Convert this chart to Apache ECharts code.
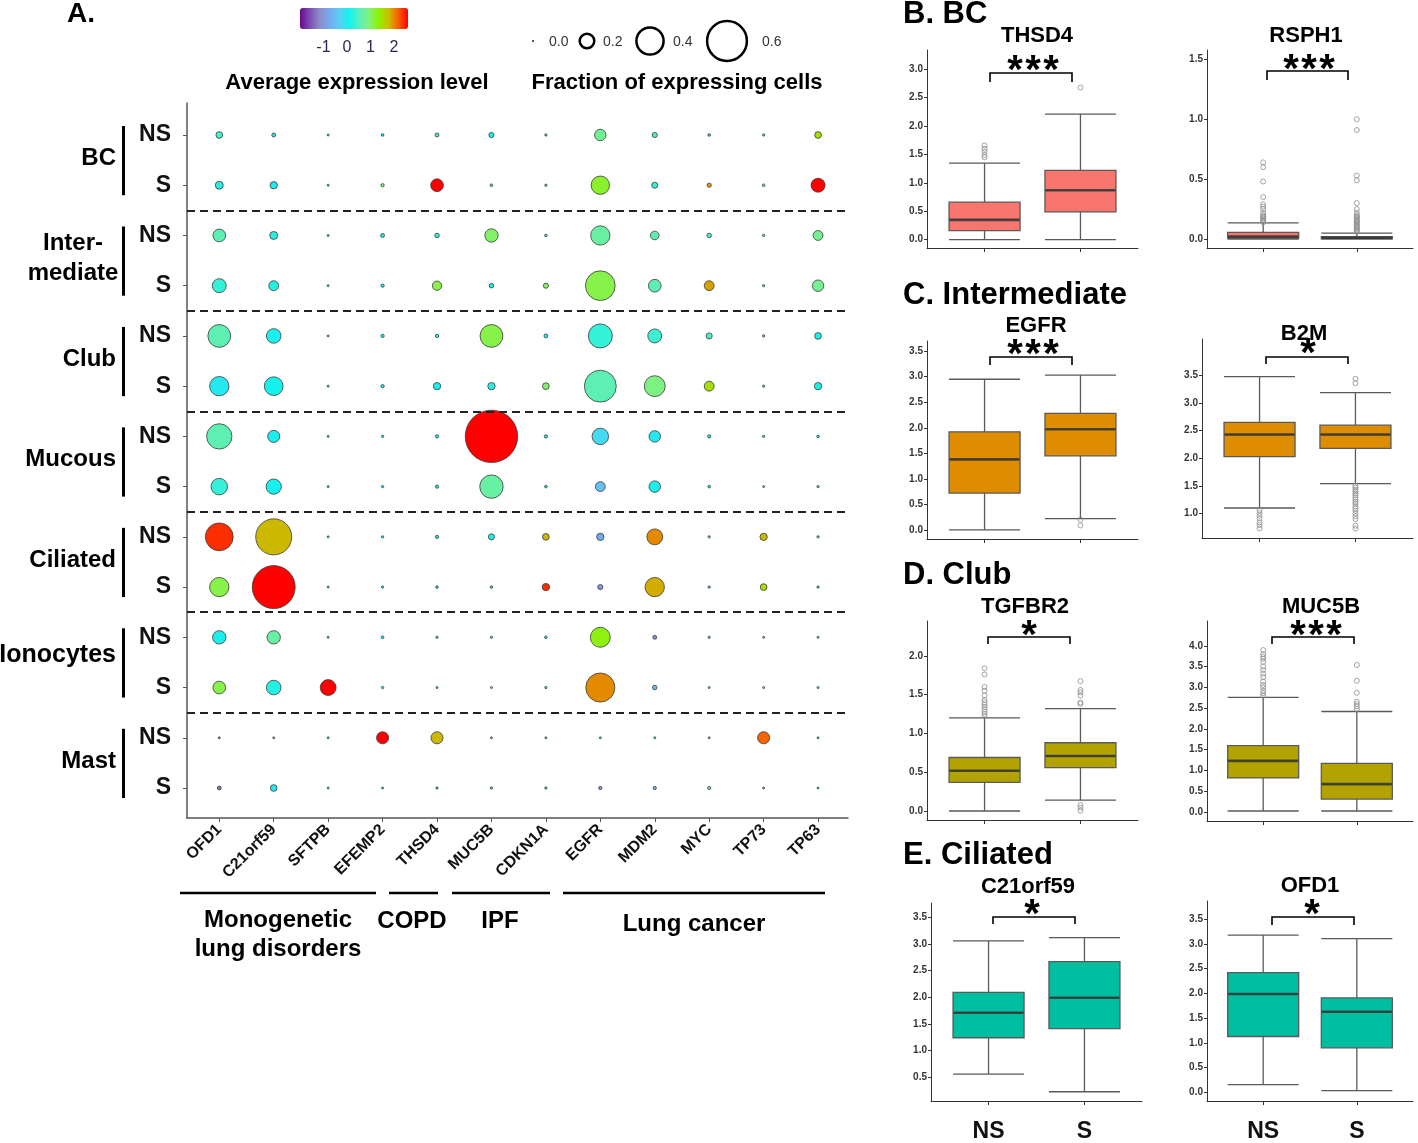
<!DOCTYPE html>
<html><head><meta charset="utf-8">
<script src="https://cdn.jsdelivr.net/npm/echarts@6/dist/echarts.min.js"></script>
<style>html,body{margin:0;padding:0;background:#fff}#c{width:1418px;height:1143px}</style>
</head><body><div id="c"></div>
<script>
// ---------------- data ----------------
const genes = ['OFD1','C21orf59','SFTPB','EFEMP2','THSD4','MUC5B','CDKN1A','EGFR','MDM2','MYC','TP73','TP63'];
const cellTypes = ['BC','Inter-\nmediate','Club','Mucous','Ciliated','Ionocytes','Mast'];
const smokingStatus = ['NS','S'];
const diseaseGroups = ['Monogenetic\nlung disorders','COPD','IPF','Lung cancer'];
const colorTicks = [-1,0,1,2];
const sizeLegendValues = [0.0,0.2,0.4,0.6];
// rows: BC NS, BC S, Intermediate NS, Intermediate S, Club NS, Club S, Mucous NS, Mucous S,
//       Ciliated NS, Ciliated S, Ionocytes NS, Ionocytes S, Mast NS, Mast S
const avgExpression = [
 [0.4, 0.0, 0, 0.1, 0.4, 0.1, 0, 0.8, 0.4, 0.1, 0, 1.5],
 [0.2, 0.05, 0, 0.8, 2.6, 0.05, 0, 1.2, 0.3, 1.9, 0.7, 2.6],
 [0.6, 0.2, 0, 0.1, 0.3, 1.0, 0, 0.7, 0.6, 0.4, 0, 0.8],
 [0.3, 0.2, 0, 0.2, 1.1, 0.1, 1.0, 1.1, 0.6, 1.9, 0, 0.8],
 [0.6, 0.05, 0, 0.1, 0.1, 1.1, 0.1, 0.3, 0.35, 0.4, 0, 0.1],
 [0.0, 0.1, 0, 0.1, 0.1, 0.2, 1.0, 0.6, 0.9, 1.5, 0, 0.15],
 [0.6, 0.05, 0, 0.0, 0.1, 2.6, 0.1, -0.2, 0.0, 0.1, 0, 0.1],
 [0.3, 0.1, 0, 0.0, 0.1, 0.7, 0.1, -0.5, 0.05, 0.1, 0, 0],
 [2.4, 1.8, 0, 0.0, 0.1, 0.05, 1.8, -0.7, 2.0, 0, 1.8, 0],
 [1.1, 2.6, 0, 0.0, 0.1, 0.1, 2.4, -0.9, 1.85, 0, 1.5, 0],
 [0.05, 0.7, 0, 0.1, 0, 0, 0.1, 1.3, -1.0, 0, 0, 0],
 [1.1, 0.2, 2.6, 0, 0, 0, 0, 2.0, -0.5, 0, 0, 0],
 [-1.3, 0, 0, 2.6, 1.8, 0, 0, 0, 0, 0, 2.15, 0],
 [-1.3, 0, 0, 0, 0, 0, 0, -1.0, -0.5, 0.8, 0, 0]
];
const fractionExpressing = [
 [0.075,0.03,0,0.01,0.03,0.05,0.005,0.15,0.05,0.01,0.005,0.075],
 [0.095,0.085,0,0.02,0.17,0.01,0.005,0.26,0.065,0.035,0.01,0.19],
 [0.17,0.095,0,0.03,0.04,0.18,0.01,0.275,0.105,0.04,0.005,0.125],
 [0.19,0.125,0,0.02,0.115,0.04,0.05,0.44,0.17,0.125,0.005,0.15],
 [0.33,0.2,0,0.02,0.02,0.33,0.03,0.35,0.19,0.065,0.005,0.075],
 [0.275,0.265,0,0.02,0.085,0.085,0.075,0.475,0.3,0.125,0.004,0.085],
 [0.37,0.16,0,0.005,0.02,0.80,0.02,0.23,0.15,0.02,0.005,0.01],
 [0.23,0.21,0,0.005,0.02,0.34,0.01,0.125,0.15,0.01,0,0.005],
 [0.41,0.54,0,0.005,0.02,0.065,0.075,0.085,0.22,0.005,0.085,0.005],
 [0.275,0.65,0,0.005,0.01,0.01,0.085,0.05,0.275,0.005,0.075,0.005],
 [0.18,0.18,0,0.01,0.005,0.005,0.01,0.285,0.03,0.005,0,0],
 [0.17,0.2,0.22,0.005,0,0,0.005,0.43,0.04,0,0,0],
 [0,0,0,0.16,0.16,0,0,0,0,0,0.16,0],
 [0.03,0.075,0,0,0.005,0.005,0.005,0.02,0.02,0.02,0,0]
];

// box plots: [min, Q1, median, Q3, max] for NS and S ; outliers [groupIndex, value]
const boxGroups = ['NS','S'];
const thsd4Stats = [[0,0.16,0.35,0.66,1.35],[0,0.49,0.87,1.22,2.21]];
const thsd4Outliers = [[0,1.45],[0,1.49],[0,1.55],[0,1.60],[0,1.66],[1,2.68]];
const rsph1Stats = [[0,0.005,0.02,0.055,0.135],[0,0.002,0.01,0.02,0.05]];
const rsph1Outliers = [[0,0.14],[0,0.15],[0,0.16],[0,0.17],[0,0.18],[0,0.19],[0,0.2],[0,0.22],[0,0.25],[0,0.27],[0,0.29],[0,0.35],[0,0.48],[0,0.6],[0,0.64],
 [1,0.06],[1,0.07],[1,0.08],[1,0.09],[1,0.1],[1,0.11],[1,0.12],[1,0.13],[1,0.14],[1,0.15],[1,0.16],[1,0.17],[1,0.18],[1,0.19],[1,0.2],[1,0.22],[1,0.25],[1,0.3],[1,0.49],[1,0.53],[1,0.91],[1,1.0]];
const egfrStats = [[0,0.72,1.38,1.92,2.95],[0.22,1.45,1.97,2.28,3.03]];
const egfrOutliers = [[1,0.2],[1,0.085]];
const b2mStats = [[1.10,2.03,2.43,2.65,3.48],[1.54,2.18,2.43,2.60,3.19]];
const b2mOutliers = [[0,1.06],[0,1.01],[0,0.96],[0,0.91],[0,0.84],[0,0.79],[0,0.73],[1,3.44],[1,3.36],[1,1.50],[1,1.47],[1,1.43],[1,1.40],[1,1.36],[1,1.33],[1,1.29],[1,1.25],[1,1.21],[1,1.18],[1,1.13],[1,1.09],[1,1.05],[1,1.0],[1,0.95],[1,0.9],[1,0.78],[1,0.73]];
const tgfbr2Stats = [[0,0.37,0.52,0.69,1.2],[0.14,0.56,0.71,0.88,1.32]];
const tgfbr2Outliers = [[0,1.22],[0,1.25],[0,1.28],[0,1.31],[0,1.34],[0,1.37],[0,1.40],[0,1.43],[0,1.49],[0,1.55],[0,1.60],[0,1.76],[0,1.84],[1,0.077],[1,0.043],[1,0.004],[1,1.38],[1,1.40],[1,1.49],[1,1.53],[1,1.56],[1,1.675]];
const muc5bStats = [[0.024,0.82,1.23,1.60,2.76],[0.024,0.31,0.67,1.17,2.42]];
const muc5bOutliers = [[0,2.80],[0,2.86],[0,2.92],[0,3.00],[0,3.06],[0,3.14],[0,3.25],[0,3.33],[0,3.42],[0,3.50],[0,3.62],[0,3.69],[0,3.74],[0,3.80],[0,3.90],[1,2.48],[1,2.54],[1,2.60],[1,2.66],[1,2.87],[1,3.16],[1,3.54]];
const c21orf59Stats = [[0.556,1.24,1.71,2.09,3.06],[0.226,1.41,1.99,2.67,3.12]];
const c21orf59Outliers = [];
const ofd1Stats = [[0.155,1.13,1.99,2.42,3.18],[0.034,0.90,1.63,1.91,3.11]];
const ofd1Outliers = [];
const ticks0to3 = [0,0.5,1,1.5,2,2.5,3];
const ticks0to15 = [0,0.5,1,1.5];
const ticks0to35 = [0,0.5,1,1.5,2,2.5,3,3.5];
const ticks1to35 = [1,1.5,2,2.5,3,3.5];
const ticks0to2 = [0,0.5,1,1.5,2];
const ticks0to4 = [0,0.5,1,1.5,2,2.5,3,3.5,4];
const ticks05to35 = [0.5,1,1.5,2,2.5,3,3.5];

// ---------------- layout / style ----------------
const FONT = '"Liberation Sans", Arial, Helvetica, sans-serif';
const sizeOf = f => 2 + 63 * f;
const palette = ['#6a0a8a','#7d4fb5','#8c8cc8','#74a9ee','#5ccff2','#14f2ee','#55f0c2','#80f27e','#8ef200','#c9c000','#f86000','#ff0000'];

const boxPanels = [
 {title:'THSD4', stats:thsd4Stats, out:thsd4Outliers, color:'#F8766D', grid:{left:927,top:50,width:211,height:198}, ymin:-0.146, ymax:3.34, ticks:ticks0to3, sig:3, br:[990,1072,73,82], tx:1037, ty:36, sx:1033, sy:63, showX:false},
 {title:'RSPH1', stats:rsph1Stats, out:rsph1Outliers, color:'#F8766D', grid:{left:1207,top:50,width:206,height:198}, ymin:-0.075, ymax:1.578, ticks:ticks0to15, sig:3, br:[1267,1348,71,80], tx:1306, ty:36, sx:1309, sy:62, showX:false},
 {title:'EGFR', stats:egfrStats, out:egfrOutliers, color:'#DE8C00', grid:{left:927,top:341,width:211,height:198}, ymin:-0.18, ymax:3.70, ticks:ticks0to35, sig:3, br:[990,1072,357,365], tx:1036, ty:326, sx:1033, sy:347, showX:false},
 {title:'B2M', stats:b2mStats, out:b2mOutliers, color:'#DE8C00', grid:{left:1202,top:339,width:211,height:199}, ymin:0.557, ymax:4.16, ticks:ticks1to35, sig:1, br:[1266,1348,357,364], tx:1304, ty:334, sx:1308, sy:346, showX:false},
 {title:'TGFBR2', stats:tgfbr2Stats, out:tgfbr2Outliers, color:'#B3A300', grid:{left:927,top:621,width:211,height:199}, ymin:-0.116, ymax:2.45, ticks:ticks0to2, sig:1, br:[988,1070,637,644], tx:1025, ty:607, sx:1029, sy:628, showX:false},
 {title:'MUC5B', stats:muc5bStats, out:muc5bOutliers, color:'#B3A300', grid:{left:1207,top:621,width:206,height:200}, ymin:-0.217, ymax:4.60, ticks:ticks0to4, sig:3, br:[1272,1354,637,644], tx:1321, ty:607, sx:1316, sy:628, showX:false},
 {title:'C21orf59', stats:c21orf59Stats, out:c21orf59Outliers, color:'#00BFA0', grid:{left:931,top:903,width:211,height:199}, ymin:0.052, ymax:3.77, ticks:ticks05to35, sig:1, br:[993,1075,917,924], tx:1028, ty:887, sx:1032, sy:907, showX:true},
 {title:'OFD1', stats:ofd1Stats, out:ofd1Outliers, color:'#00BFA0', grid:{left:1207,top:901,width:206,height:201}, ymin:-0.175, ymax:3.87, ticks:ticks0to35, sig:1, br:[1272,1354,917,925], tx:1310, ty:886, sx:1312, sy:907, showX:true}
];

const grids = [], xAxes = [], yAxes = [], series = [];
const geneIdx = genes.map((g,i)=>i+1);
const rowIdx = avgExpression.map((r,i)=>i);

// grid 0 : dot plot
grids.push({left:187, top:103, width:661, height:715});
xAxes.push({type:'value', gridIndex:0, min:0.407, max:12.55, splitLine:{show:false},
  axisLine:{show:true, onZero:false, lineStyle:{color:'#555', width:1.5}},
  axisTick:{show:true, customValues:geneIdx, length:4, lineStyle:{color:'#555'}},
  axisLabel:{customValues:geneIdx, formatter:v=>genes[Math.round(v)-1], rotate:45, fontSize:16, fontWeight:'bold', color:'#111', margin:9, fontFamily:FONT}});
yAxes.push({type:'value', gridIndex:0, inverse:true, min:-0.637, max:13.597, splitLine:{show:false},
  axisLine:{show:true, onZero:false, lineStyle:{color:'#555', width:1.5}},
  axisTick:{show:true, customValues:rowIdx, length:4, lineStyle:{color:'#555'}},
  axisLabel:{customValues:rowIdx, formatter:v=>smokingStatus[Math.round(v)%2], fontSize:23, fontWeight:'bold', color:'#111', margin:16, fontFamily:FONT}});
const dotData = [];
avgExpression.forEach((row,r)=>row.forEach((v,g)=>dotData.push([g+1, r, v, fractionExpressing[r][g]])));
series.push({type:'scatter', xAxisIndex:0, yAxisIndex:0, data:dotData, symbolSize:d=>sizeOf(d[3]),
  itemStyle:{borderColor:'#3a3a3a', borderWidth:0.8, opacity:1}, emphasis:{disabled:true}, z:3,
  markLine:{silent:true, symbol:'none', label:{show:false}, lineStyle:{type:[8,5], color:'#222', width:2},
    data:[1.5,3.5,5.5,7.5,9.5,11.5].map(y=>({yAxis:y}))}});

// grid 1 : colour bar axis
grids.push({left:300, top:8, width:108, height:21});
xAxes.push({type:'value', gridIndex:1, min:-2, max:2.6, axisLine:{show:false}, axisTick:{show:false}, splitLine:{show:false},
  axisLabel:{customValues:colorTicks, fontSize:16, color:'#2a2a5a', margin:11, fontFamily:FONT}});
yAxes.push({type:'value', gridIndex:1, show:false});

// box plot grids
boxPanels.forEach((p,k)=>{
  const gi = 2 + k;
  grids.push(p.grid);
  xAxes.push({type:'value', gridIndex:gi, min:-0.6, max:1.6, splitLine:{show:false},
    axisLine:{show:true, onZero:false, lineStyle:{color:'#333', width:1}},
    axisTick:{show:true, customValues:[0,1], length:4, lineStyle:{color:'#333'}},
    axisLabel:{show:p.showX, customValues:[0,1], formatter:v=>boxGroups[Math.round(v)], fontSize:23, fontWeight:'bold', color:'#111', margin:19, fontFamily:FONT}});
  yAxes.push({type:'value', gridIndex:gi, min:p.ymin, max:p.ymax, splitLine:{show:false},
    axisLine:{show:true, onZero:false, lineStyle:{color:'#333', width:1}},
    axisTick:{show:true, customValues:p.ticks, length:3, lineStyle:{color:'#333'}},
    axisLabel:{customValues:p.ticks, formatter:v=>v.toFixed(1), fontSize:10, fontWeight:'bold', color:'#333', margin:4, fontFamily:FONT}});
  series.push({type:'boxplot', xAxisIndex:gi, yAxisIndex:gi, data:p.stats.map((s,i)=>[i].concat(s)),
    boxWidth:[71,71], itemStyle:{color:p.color, borderColor:'#5a5a5a', borderWidth:1.3}, emphasis:{disabled:true}});
  // thick median line
  series.push({type:'scatter', xAxisIndex:gi, yAxisIndex:gi, data:p.stats.map((s,i)=>[i, s[2]]), symbol:'rect', symbolSize:[70,2.6],
    itemStyle:{color:'#333'}, emphasis:{disabled:true}, z:4});
  series.push({type:'scatter', xAxisIndex:gi, yAxisIndex:gi, data:p.out, symbol:'circle', symbolSize:5,
    itemStyle:{color:'rgba(255,255,255,0)', borderColor:'#8f8f8f', borderWidth:1}, emphasis:{disabled:true}});
});

const chart = echarts.init(document.getElementById('c'));
chart.setOption({
  animation:false, backgroundColor:'#fff', textStyle:{fontFamily:FONT},
  grid:grids, xAxis:xAxes, yAxis:yAxes, series:series,
  visualMap:{type:'continuous', seriesIndex:0, dimension:2, min:-2, max:2.6, orient:'horizontal', left:300, top:8,
    itemWidth:21, itemHeight:108, padding:0, calculable:false, hoverLink:false, inRange:{color:palette}}
});

// ---------------- annotations ----------------
const txt = (text, x, y, size, align, extra) => Object.assign({type:'text', x:x, y:y, silent:true, z:10,
  style:Object.assign({text:text, fontSize:size, fontWeight:'bold', fontFamily:FONT, fill:'#000',
    align:align||'left', textAlign:align||'left', verticalAlign:'middle', textVerticalAlign:'middle'}, extra||{})});
const line = (x1,y1,x2,y2,w) => ({type:'line', silent:true, z:10, shape:{x1,y1,x2,y2}, style:{stroke:'#000', lineWidth:w}});
const g = [];
g.push(txt('A.', 67, 14, 28));
g.push(txt('Average expression level', 357, 83, 22, 'center'));
g.push(txt('Fraction of expressing cells', 677, 83, 22, 'center'));
// size legend
const legX = [533, 587, 650, 727];
const legLabelX = [549, 603, 673, 762];
sizeLegendValues.forEach((f,i)=>{
  const r = sizeOf(f)/2;
  g.push({type:'circle', silent:true, shape:{cx:legX[i], cy:41, r:f===0?1:r}, style:f===0?{fill:'#222'}:{fill:'rgba(0,0,0,0)', stroke:'#000', lineWidth:2.5}});
  g.push(txt(f.toFixed(1), legLabelX[i], 42, 14, 'left', {fontWeight:'normal', fill:'#333'}));
});
// cell-type group labels and bars
cellTypes.forEach((name,k)=>{
  const yNS = chart.convertToPixel({xAxisIndex:0, yAxisIndex:0}, [1, 2*k])[1];
  const yS = chart.convertToPixel({xAxisIndex:0, yAxisIndex:0}, [1, 2*k+1])[1];
  g.push({type:'rect', silent:true, shape:{x:122, y:yNS-9, width:3, height:(yS-yNS)+19}, style:{fill:'#000'}});
  const yc = (yNS+yS)/2 - 2;
  if (name.indexOf('\n')>=0) g.push(txt(name, 73, yc, 24, 'center', {lineHeight:30}));
  else g.push(txt(name, 116, yc - (k===5?5:0), k===5?25:24, 'right'));
});
// disease groups under x axis
const dgLines = [[180,376],[389,438],[452,550],[563,825]];
const dgLabel = [[278,935],[412,921],[500,921],[694,924]];
diseaseGroups.forEach((name,i)=>{
  g.push(line(dgLines[i][0], 893, dgLines[i][1], 893, 2.5));
  g.push(txt(name, dgLabel[i][0], dgLabel[i][1], 24, 'center', {lineHeight:29}));
});
// right panel titles
g.push(txt('B. BC', 903, 14, 31));
g.push(txt('C. Intermediate', 903, 295, 31));
g.push(txt('D. Club', 903, 575, 31));
g.push(txt('E. Ciliated', 903, 855, 31));
boxPanels.forEach(p=>{
  g.push(txt(p.title, p.tx, p.ty, 22, 'center'));
  const [x1,x2,yt,yb] = p.br;
  g.push({type:'polyline', silent:true, z:10, shape:{points:[[x1,yb],[x1,yt],[x2,yt],[x2,yb]]}, style:{stroke:'#000', lineWidth:1.6, fill:null}});
  for (let s = 0; s < p.sig; s++) {
    g.push(txt('*', p.sx + (s - (p.sig-1)/2) * 18, p.sy + 9, 40, 'center'));
  }
});
chart.setOption({graphic:{elements:g}});
</script>
</body></html>
